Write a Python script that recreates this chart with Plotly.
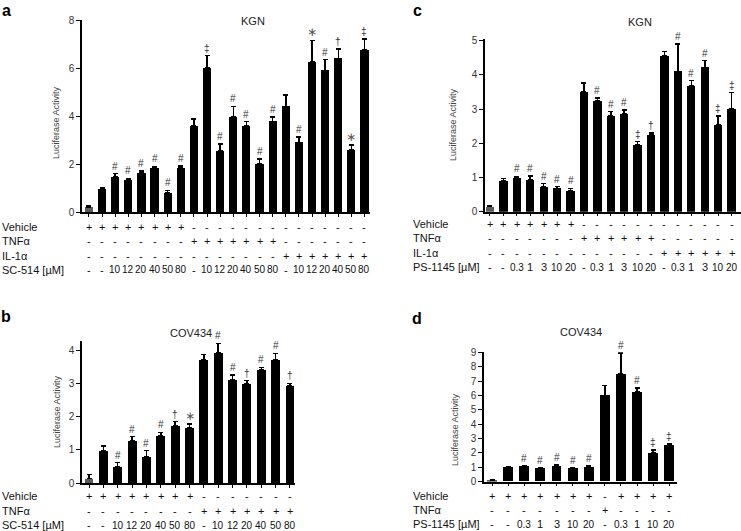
import plotly.graph_objects as go

W, H = 741, 531
FONT = "Liberation Sans, Arial, sans-serif"

# ---- panel a: KGN, SC-514 ----
a_mean = [0.2, 0.95, 1.45, 1.33, 1.62, 1.85, 0.8, 1.85,
          3.58, 6.0, 2.55, 3.95, 3.6, 2.0, 3.78,
          4.4, 2.9, 6.25, 5.9, 6.4, 2.6, 6.75]
a_err = [0.05, 0.04, 0.15, 0.07, 0.08, 0.05, 0.1, 0.06,
         0.3, 0.52, 0.28, 0.45, 0.17, 0.2, 0.17,
         0.47, 0.22, 0.9, 0.45, 0.4, 0.2, 0.45]
a_sig = ["", "", "#", "#", "#", "#", "#", "#",
         "", "‡", "#", "#", "#", "#", "#",
         "", "#", "∗", "#", "†", "∗", "‡"]
a_vehicle = ["+"] * 8 + ["-"] * 14
a_tnf = ["-"] * 8 + ["+"] * 7 + ["-"] * 7
a_il1 = ["-"] * 15 + ["+"] * 7
a_dose = ["-", "-", "10", "12", "20", "40", "50", "80",
          "-", "10", "12", "20", "40", "50", "80",
          "-", "10", "12", "20", "40", "50", "80"]

# ---- panel b: COV434, SC-514 ----
b_mean = [0.15, 0.97, 0.5, 1.28, 0.8, 1.42, 1.72, 1.67,
          3.7, 3.92, 3.12, 3.0, 3.42, 3.72, 2.93]
b_err = [0.12, 0.15, 0.12, 0.12, 0.18, 0.11, 0.13, 0.11,
         0.17, 0.28, 0.13, 0.08, 0.06, 0.18, 0.07]
b_sig = ["", "", "#", "#", "#", "#", "†", "∗",
         "", "#", "#", "†", "#", "#", "†"]
b_vehicle = ["+"] * 8 + ["-"] * 7
b_tnf = ["-"] * 8 + ["+"] * 7
b_dose = ["-", "-", "10", "12", "20", "40", "50", "80",
          "-", "10", "12", "20", "40", "50", "80"]

# ---- panel c: KGN, PS-1145 ----
c_mean = [0.15, 0.9, 1.0, 0.92, 0.72, 0.68, 0.62,
          3.5, 3.25, 2.8, 2.85, 1.95, 2.25,
          4.55, 4.1, 3.67, 4.22, 2.55, 3.0]
c_err = [0.02, 0.07, 0.03, 0.13, 0.1, 0.05, 0.06,
         0.27, 0.07, 0.13, 0.12, 0.1, 0.05,
         0.13, 0.8, 0.16, 0.2, 0.25, 0.48]
c_sig = ["", "", "#", "#", "#", "#", "#",
         "", "#", "#", "#", "‡", "†",
         "", "#", "#", "#", "‡", "‡"]
c_vehicle = ["+"] * 7 + ["-"] * 12
c_tnf = ["-"] * 7 + ["+"] * 6 + ["-"] * 6
c_il1 = ["-"] * 13 + ["+"] * 6
c_dose = ["-", "-", "0.3", "1", "3", "10", "20",
          "-", "0.3", "1", "3", "10", "20",
          "-", "0.3", "1", "3", "10", "20"]

# ---- panel d: COV434, PS-1145 ----
d_mean = [0.1, 0.97, 1.07, 0.93, 1.1, 0.93, 1.03,
          6.0, 7.5, 6.25, 2.0, 2.5]
d_err = [0.05, 0.04, 0.05, 0.04, 0.07, 0.04, 0.05,
         0.68, 1.45, 0.25, 0.2, 0.12]
d_sig = ["", "", "#", "#", "#", "#", "#",
         "", "#", "#", "‡", "‡"]
d_vehicle = ["+"] * 7 + ["-"] + ["+"] * 4
d_tnf = ["-"] * 7 + ["+"] + ["-"] * 4
d_dose = ["-", "-", "0.3", "1", "3", "10", "20",
          "-", "0.3", "1", "10", "20"]

fig = go.Figure()


def px_x(x):
    return x / W


def px_y(y):
    return 1 - y / H


def note(x, y, text, size, color="#222", family=FONT, **kw):
    kw.setdefault("xanchor", "center")
    kw.setdefault("yanchor", "middle")
    fig.add_annotation(x=x, y=y, text=text, showarrow=False,
                       font=dict(size=size, color=color, family=family), **kw)


def panel(k, mean, err, sig, rows, xdom, ydom, xrange, yrange, dtick,
          label_x, title, title_xy, ytitle_xy, letter, letter_xy):
    n = len(mean)
    xa = "x" if k == 1 else f"x{k}"
    ya = "y" if k == 1 else f"y{k}"
    colors = ["#5c5c5c"] + ["#000000"] * (n - 1)
    fig.add_bar(
        x=list(range(n)), y=mean, xaxis=xa, yaxis=ya,
        marker=dict(color=colors, line_width=0), width=0.62,
        error_y=dict(type="data", array=err, arrayminus=[0] * n,
                     symmetric=False, color="black", thickness=1.5, width=2.5),
        showlegend=False, hoverinfo="skip",
    )
    suffix = "" if k == 1 else str(k)
    fig.layout["xaxis" + suffix] = dict(
        domain=[px_x(xdom[0]), px_x(xdom[1])], anchor=ya, range=xrange,
        showline=True, linecolor="black", linewidth=1.5,
        tickvals=list(range(n)), ticks="outside", ticklen=3, tickwidth=1,
        tickcolor="black", showticklabels=False, showgrid=False,
        zeroline=False, automargin=False,
    )
    fig.layout["yaxis" + suffix] = dict(
        domain=[px_y(ydom[0]), px_y(ydom[1])], anchor=xa, range=yrange,
        dtick=dtick, showline=True, linecolor="black", linewidth=1.5,
        ticks="outside", ticklen=4, tickwidth=1, tickcolor="black",
        tickfont=dict(size=10, color="#333"), showgrid=False,
        zeroline=False, automargin=False,
    )
    # significance marks
    for i, s in enumerate(sig):
        if s:
            star = s == "∗"
            note(i, mean[i] + err[i], s, 12 if star else 10,
                 "#555" if star else "#333",
                 "DejaVu Sans" if star else FONT, xref=xa, yref=ya,
                 yanchor="bottom", yshift=-1 if star else 0)
    # treatment rows below the axis
    for name, vals, ypx in rows:
        note(px_x(label_x), px_y(ypx), name, 11, "#111",
             xref="paper", yref="paper", xanchor="left")
        for i, v in enumerate(vals):
            note(i, px_y(ypx), v, 10 if len(v) > 1 else 11, "#111",
                 xref=xa, yref="paper")
    note(px_x(title_xy[0]), px_y(title_xy[1]), title, 11,
         xref="paper", yref="paper")
    note(px_x(ytitle_xy[0]), px_y(ytitle_xy[1]), "Luciferase Activity", 9,
         "#444", xref="paper", yref="paper", textangle=-90)
    note(px_x(letter_xy[0]), px_y(letter_xy[1]), "<b>" + letter + "</b>", 16,
         "#000", xref="paper", yref="paper")


panel(1, a_mean, a_err, a_sig,
      [("Vehicle", a_vehicle, 227.5), ("TNFα", a_tnf, 241.5),
       ("IL-1α", a_il1, 255.5), ("SC-514 [µM]", a_dose, 269.5)],
      (82, 370), (212, 20), [-0.53, 21.42], [0, 8], 2,
      0, "KGN", (253, 21), (56, 123), "a", (6, 11))

panel(2, b_mean, b_err, b_sig,
      [("Vehicle", b_vehicle, 496), ("TNFα", b_tnf, 510.5),
       ("SC-514 [µM]", b_dose, 525)],
      (82, 295), (483.3, 340.7), [-0.49, 14.35], [0, 4.28], 1,
      0, "COV434", (191, 333), (57, 412), "b", (6, 316))

panel(3, c_mean, c_err, c_sig,
      [("Vehicle", c_vehicle, 224), ("TNFα", c_tnf, 238.3),
       ("IL-1α", c_il1, 252.6), ("PS-1145 [µM]", c_dose, 267)],
      (485, 741), (211.7, 39), [-0.37, 18.7], [0, 5.05], 1,
      411, "KGN", (640, 22), (453, 125), "c", (417, 11))

panel(4, d_mean, d_err, d_sig,
      [("Vehicle", d_vehicle, 496), ("TNFα", d_tnf, 510),
       ("PS-1145 [µM]", d_dose, 524.3)],
      (484, 677), (481.7, 352.3), [-0.5, 11.48], [0, 9], 1,
      411, "COV434", (581, 332), (455, 430), "d", (417, 318))

fig.update_layout(
    template="none",
    width=W, height=H, margin=dict(l=0, r=0, t=0, b=0, pad=0, autoexpand=False),
    paper_bgcolor="white", plot_bgcolor="white",
    font=dict(family=FONT, color="#222"), bargap=0,
)

# the page body has a default 8px margin; drop it so the figure sits at 0,0
fig.write_html("out.html", config={"displayModeBar": False},
               post_script="document.body.style.margin='0px';")
